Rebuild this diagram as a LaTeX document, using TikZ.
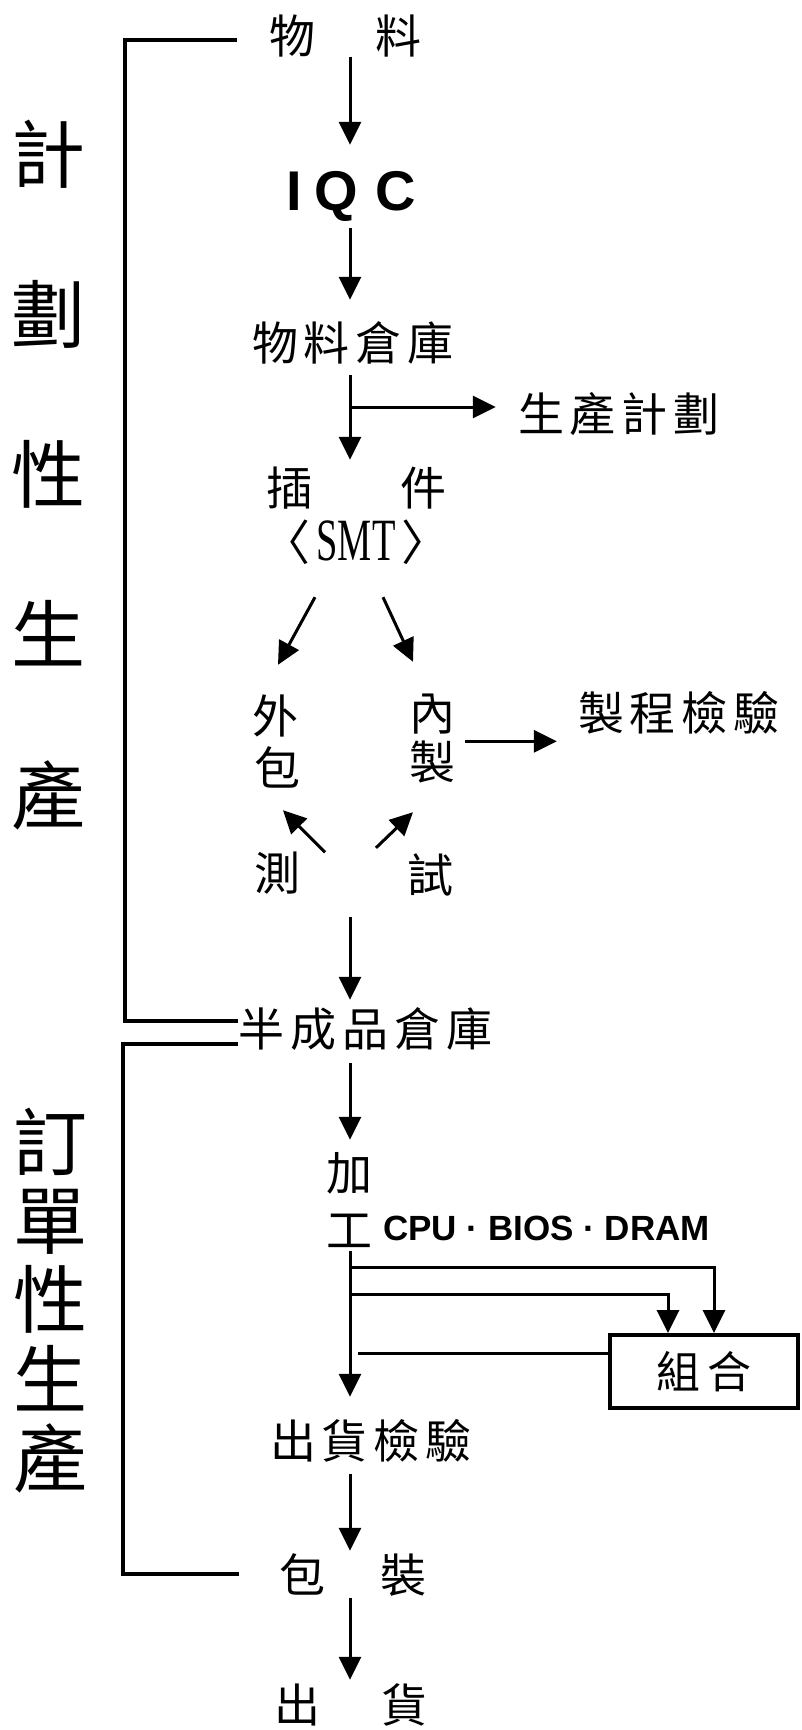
\documentclass[tikz,border=0pt]{standalone}
\usepackage{fontspec}
\usetikzlibrary{arrows.meta,calc}
\newfontfamily\cjk{Noto Sans CJK TC}
\newfontfamily\lsans{Liberation Sans}
\newfontfamily\lserif{Liberation Serif}
\newcommand\cg{\hspace{6pt}}
\tikzset{
  cj/.style={font=\cjk\fontsize{46}{46}\selectfont, inner sep=0pt, text height=38pt, text depth=3pt},
  bigl/.style={font=\cjk\fontsize{74}{74}\selectfont, inner sep=0pt, text height=61pt, text depth=5pt},
  arr/.style={line width=3pt, -{Triangle[length=23pt,width=22pt]}},
  ln/.style={line width=3pt},
  brk/.style={line width=4pt},
  boxn/.style={draw, line width=4pt, minimum width=188pt, minimum height=73pt, inner sep=0pt,
    font=\cjk\fontsize{44}{44}\selectfont}
}
\begin{document}
\begin{tikzpicture}[x=1pt,y=-1pt]
\useasboundingbox (0,0) rectangle (802,1730);
\coordinate (spine) at (350,0);
\coordinate (bx1) at (125,0);
\coordinate (bx2) at (123,0);

% left column labels
\node[bigl] (L1) at (48,154) {計};
\node[bigl] (L2) at (48,314) {劃};
\node[bigl] (L3) at (48,474) {性};
\node[bigl] (L4) at (48,634) {生};
\node[bigl] (L5) at (48,795) {產};
\node[bigl] (M1) at (50,1142) {訂};
\node[bigl] (M2) at (50,1220) {單};
\node[bigl] (M3) at (50,1299) {性};
\node[bigl] (M4) at (50,1379) {生};
\node[bigl] (M5) at (50,1458) {產};

% main flow nodes
\node[cj] (mat) at (345.5,36) {物\hspace{61pt}料};
\node[inner sep=0pt, text height=40pt, text depth=0pt, font=\lsans\bfseries\fontsize{56}{56}\selectfont]
  (iqc) at (351,190) {I\hspace{13pt}Q\hspace{17pt}C};
\node[cj] (wh1) at (353,343) {物\cg 料\cg 倉\cg 庫};
\node[cj] (plan) at (619,414) {生\cg 產\cg 計\cg 劃};
\node[cj] (ins) at (356.5,488) {插\hspace{89pt}件};
\node[inner sep=0pt, text height=43pt, text depth=5pt] (smt) at (356,541)
  {{\cjk\fontsize{48}{48}\selectfont 〈}\hspace{6pt}\scalebox{0.64}[1]{\lserif\fontsize{60}{60}\selectfont SMT}\hspace{6pt}{\cjk\fontsize{48}{48}\selectfont 〉}};
\node[cj] (w1) at (275,716) {外};
\node[cj] (w2) at (277,768) {包};
\node[cj] (n1) at (432,713) {內};
\node[cj] (n2) at (432,762) {製};
\node[cj] (qc) at (679,713) {製\cg 程\cg 檢\cg 驗};
\node[cj] (c1) at (277,873) {測};
\node[cj] (c2) at (430,875) {試};
\node[cj] (ssw) at (365.5,1029) {半\cg 成\cg 品\cg 倉\cg 庫};
\node[cj] (ka) at (349,1173) {加};
\node[cj] (ko) at (349,1230) {工};
\node[inner sep=0pt, anchor=base west, font=\lsans\bfseries\fontsize{35}{35}\selectfont]
  (cpu) at (383,1240) {CPU · BIOS · DRAM};
\node[boxn] (combo) at (704,1371.5) {組\hspace{7pt}合};
\node[cj] (sh) at (371,1441) {出\cg 貨\cg 檢\cg 驗};
\node[cj] (pack) at (353,1575) {包\hspace{56pt}裝};
\node[cj] (out) at (351,1705) {出\hspace{61pt}貨};

% brackets
\coordinate (b1s) at ($(mat.west)+(-32,4)$);
\coordinate (b1e) at ($(ssw.west)+(0,-8)$);
\draw[brk] (b1s) -| (bx1 |- b1e) -- (b1e);
\coordinate (b2s) at ($(ssw.west)+(0,15)$);
\coordinate (b2e) at ($(pack.west)+(-40,-1)$);
\draw[brk] (b2s) -| (bx2 |- b2e) -- (b2e);

% vertical flow arrows
\draw[arr, shorten >=25pt] (mat.south -| spine) -- (iqc.north -| spine);
\draw[arr, shorten <=18pt, shorten >=22.5pt] (iqc.south -| spine) -- (wh1.north -| spine);
\draw[arr, shorten <=11.5pt, shorten >=7.5pt] (wh1.south -| spine) -- (ins.north -| spine);
\coordinate (pa) at ($(plan.west)+(0,-7)$);
\draw[arr, shorten >=22pt] (pa -| spine) -- (pa);

% diagonals
\draw[arr] ($(smt.south)+(-41,32)$) -- ($(w1.north)+(3,-30.5)$);
\draw[arr] ($(smt.south)+(27,32)$) -- ($(n1.north)+(-19,-30.5)$);
\draw[arr] ($(c1.north)+(48,0)$) -- ($(w2.south)+(6,21.5)$);
\draw[arr] ($(c2.north)+(-54,-6.5)$) -- ($(n2.south)+(-19,29.5)$);
\coordinate (qa) at ($(n2.north east)+(10,0)$);
\draw[arr, shorten >=21pt] (qa) -- (qa -| qc.west);

\draw[arr, shorten <=23.5pt, shorten >=8.5pt] (c1.south -| spine) -- (ssw.north -| spine);
\draw[arr, shorten <=13.5pt, shorten >=12.5pt] (ssw.south -| spine) -- (ka.north -| spine);
\draw[arr, shorten >=23.5pt] (ko.south -| spine) -- (sh.north -| spine);

% branches to combo
\draw[arr] ($(ko.south -| spine)+(0,16.5)$) -| ([xshift=10pt]combo.north);
\draw[arr] ($(ko.south -| spine)+(0,43.5)$) -| ([xshift=-36pt]combo.north);
\coordinate (fb) at ([yshift=18.5pt]combo.west);
\draw[ln, shorten >=8pt] (fb) -- (fb -| spine);

\draw[arr, shorten <=12.5pt, shorten >=3.5pt] (sh.south -| spine) -- (pack.north -| spine);
\draw[arr, shorten <=2.5pt, shorten >=4.5pt] (pack.south -| spine) -- (out.north -| spine);
\end{tikzpicture}
\end{document}
